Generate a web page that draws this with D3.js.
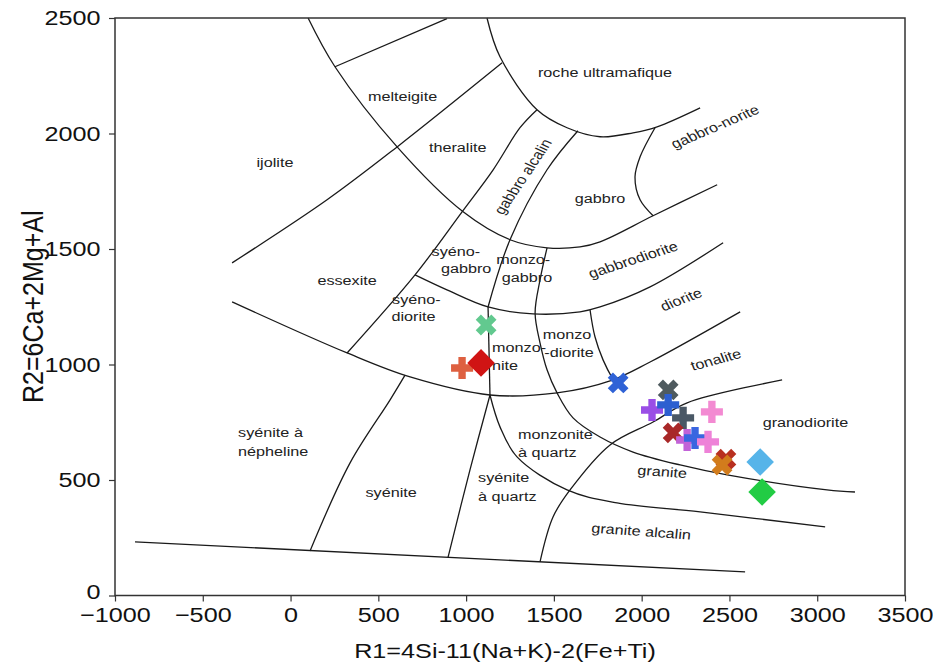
<!DOCTYPE html>
<html><head><meta charset="utf-8">
<script src="https://cdn.jsdelivr.net/npm/d3@7"></script>
<style>html,body{margin:0;padding:0;background:#fff;}svg{display:block;font-family:"Liberation Sans",Arial,sans-serif;}</style>
</head><body><svg id="c" width="933" height="668"></svg>
<script>
// ---- axis ticks ----
const xTicks = [-1000,-500,0,500,1000,1500,2000,2500,3000,3500];
const yTicks = [0,500,1000,1500,2000,2500];

// ---- classification boundaries (R1, R2) ----
const bottomLine        = [[-886,232],[2589,102]];
const upperLeftDiagonal = [[-333,1440],[208,1713],[607,1942],[1205,2306]];
const melteigiteTop     = [[253,2289],[891,2497]];
const middleArc         = [[100,2500],[253,2289],[607,1942],[983,1661],[1250,1540],[1461,1505],[1649,1509],[1763,1531],[2065,1644],[2430,1778]];
const ultramaficArc     = [[1119,2500],[1193,2332],[1404,2103],[1575,2025],[1763,1986],[1951,2003],[2088,2029],[2333,2111]];
const gabbroNoriteLine  = [[2076,2025],[1991,1899],[1962,1812],[1991,1713],[2065,1644]];
const alkGabbroLeft     = [[322,1050],[709,1388],[977,1661],[1154,1843],[1307,2025],[1404,2103]];
const quartzSyeniteLeft = [[897,165],[1022,544],[1136,868]];
const monzoniteSplit    = [[1136,868],[1125,1249]];
const alkGabbroRight    = [[1125,1249],[1250,1540],[1461,1843],[1637,2012]];
const dioriteArc        = [[709,1388],[891,1323],[1125,1249],[1381,1219],[1649,1228],[1763,1249],[2048,1336],[2464,1527]];
const lowerArc          = [[-333,1271],[322,1050],[681,946],[1136,868],[1518,877],[1820,929],[2048,1011],[2561,1228]];
const graniteAlkLine    = [[1136,868],[1193,730],[1290,600],[1575,457],[1860,401],[2333,362],[3045,297]];
const monzoDioriteLeft  = [[1461,1505],[1421,1366],[1393,1223],[1421,1094],[1461,977],[1518,877],[1609,769],[1763,686],[1951,621],[2219,565],[2487,522],[3056,457],[3215,448]];
const dioriteSplit      = [[1706,1236],[1734,1120],[1780,1020],[1837,935]];
const tonaliteLine      = [[1421,146],[1495,340],[1592,457],[1820,652],[2065,751],[2259,834],[2800,933]];
const syeniteLeft       = [[111,193],[339,574],[567,847],[652,954]];
const boundaries = [bottomLine,upperLeftDiagonal,melteigiteTop,middleArc,ultramaficArc,gabbroNoriteLine,
  alkGabbroLeft,quartzSyeniteLeft,monzoniteSplit,alkGabbroRight,dioriteArc,lowerArc,graniteAlkLine,
  monzoDioriteLeft,dioriteSplit,tonaliteLine,syeniteLeft];

// ---- field labels ----
const fieldNames  = ["roche ultramafique","melteigite","theralite","ijolite","gabbro alcalin","gabbro-norite","gabbro",
  "syéno-","gabbro","monzo-","gabbro","gabbrodiorite","essexite","diorite","syéno-","diorite","monzo","-diorite",
  "monzo-","nite","tonalite","granodiorite","syénite à","népheline","syénite","syénite","à quartz","monzonite","à quartz",
  "granite","granite alcalin"];
const fieldR1 = [1791,638,952,-89,1324,2418,1763,942,1000,1325,1347,1951,322,2225,717,700,1575,1586,1148,1296,2423,2933,-299,-299,573,1068,1068,1296,1296,2117,1997];
const fieldR2 = [2263,2159,1938,1873,1813,2029,1719,1488,1414,1453,1375,1453,1362,1281,1280,1207,1128,1050,1072,994,1020,747,704,622,444,512,430,695,617,535,277];
const fieldAngle = [0,0,0,0,-56,-23,0,0,0,0,0,-18,0,-21,0,0,0,0,0,0,-15,0,0,0,0,0,0,0,0,4,4];
const fieldAnchor = ["middle","middle","middle","middle","middle","middle","middle","middle","middle","middle","middle","middle","middle","middle","middle","middle","middle","middle","start","end","middle","middle","start","start","middle","start","start","start","start","middle","middle"];

// ---- samples ----
const sampleR1 = [977,1114,1085,1866,2151,2059,2151,2236,2179,2259,2304,2400,2378,2480,2458,2675,2686];
const sampleR2 = [985,1171,1007,920,890,803,825,769,704,673,682,795,665,590,565,578,448];
const sampleShape = ["plus","x","diamond","x","x","plus","plus","plus","x","plus","plus","plus","plus","x","x","diamond","diamond"];
const sampleColor = ["#de6040","#62c98f","#d01414","#2f62d6","#4f5b5f","#9a4ee6","#2d5fd0","#4a5866","#a82828","#c262d8","#3a66e0","#f38ad2","#ee82d8","#b83020","#d27c1c","#56b4e9","#22cc44"];

const svg = d3.select("#c");
const M = {l:115, r:905, t:18, b:595.5};
const x = d3.scaleLinear().domain([-1000,3500]).range([M.l,M.r]);
const y = d3.scaleLinear().domain([0,2500]).range([M.b,M.t]);
const SX = 1.2; // horizontal stretch of the original image text

// boundaries
const line = d3.line().x(d=>x(d[0])).y(d=>y(d[1])).curve(d3.curveCatmullRom.alpha(0.5));
svg.append("g").selectAll("path").data(boundaries).join("path")
  .attr("d", line).attr("fill","none").attr("stroke","#1a1a1a").attr("stroke-width",1.3);

// labels
function sText(g, px, py, str, angle, anchor, size){
  const rad = angle*Math.PI/180;
  const a2 = Math.atan(SX*Math.tan(rad))*180/Math.PI;
  g.append("text").attr("transform",`translate(${px},${py}) scale(${SX},1) rotate(${a2})`)
   .attr("text-anchor",anchor).attr("dominant-baseline","central")
   .attr("font-size",size).attr("fill","#222").text(str);
}
const lg = svg.append("g");
fieldNames.forEach((t,i)=> sText(lg, x(fieldR1[i]), y(fieldR2[i]), t, fieldAngle[i], fieldAnchor[i], 13.5));

// samples
const cross = d3.symbol().type(d3.symbolCross).size(270);
const sq = d3.symbol().type(d3.symbolSquare).size(380);
const sg = svg.append("g");
sampleR1.forEach((r1,i)=>{
  const sh = sampleShape[i];
  const p = sg.append("path").attr("fill", sampleColor[i]);
  if (sh==="diamond") p.attr("d", sq()).attr("transform",`translate(${x(r1)},${y(sampleR2[i])}) rotate(45)`);
  else if (sh==="x") p.attr("d", cross()).attr("transform",`translate(${x(r1)},${y(sampleR2[i])}) rotate(45)`);
  else p.attr("d", cross()).attr("transform",`translate(${x(r1)},${y(sampleR2[i])})`);
});

// frame
svg.append("rect").attr("x",M.l).attr("y",M.t).attr("width",M.r-M.l).attr("height",M.b-M.t)
  .attr("fill","none").attr("stroke","#333").attr("stroke-width",1.5);

// axes
const fmt = d3.format("");
const xa = svg.append("g").attr("transform",`translate(0,${M.b})`)
  .call(d3.axisBottom(x).tickValues(xTicks).tickSize(6).tickSizeOuter(0).tickFormat(fmt));
xa.select(".domain").remove();
xa.selectAll("line").attr("stroke","#333").attr("stroke-width",1.2);
xa.selectAll("text").attr("font-size",21).attr("fill","#111").attr("y",12).attr("font-family","Liberation Sans, Arial")
  .attr("transform",`scale(${SX},1)`);
const ya = svg.append("g").attr("transform",`translate(${M.l},0)`)
  .call(d3.axisLeft(y).tickValues(yTicks).tickSize(6).tickSizeOuter(0).tickFormat(fmt));
ya.select(".domain").remove();
ya.selectAll("line").attr("stroke","#333").attr("stroke-width",1.2);
ya.selectAll("text").attr("font-size",21).attr("fill","#111").attr("x",-12).attr("font-family","Liberation Sans, Arial")
  .attr("transform",`scale(${SX},1)`);
ya.selectAll(".tick").filter(d=>d===0).select("text").attr("dy","0.15em");

// axis titles
svg.append("text").attr("transform",`translate(505,651) scale(${SX},1)`)
  .attr("text-anchor","middle").attr("dominant-baseline","central").attr("font-size",21).attr("fill","#111")
  .text("R1=4Si-11(Na+K)-2(Fe+Ti)");
svg.append("text").attr("transform",`translate(33,${(M.t+M.b)/2}) scale(${SX},1) rotate(-90)`)
  .attr("text-anchor","middle").attr("dominant-baseline","central").attr("font-size",25).attr("fill","#111")
  .text("R2=6Ca+2Mg+Al");
</script></body></html>
